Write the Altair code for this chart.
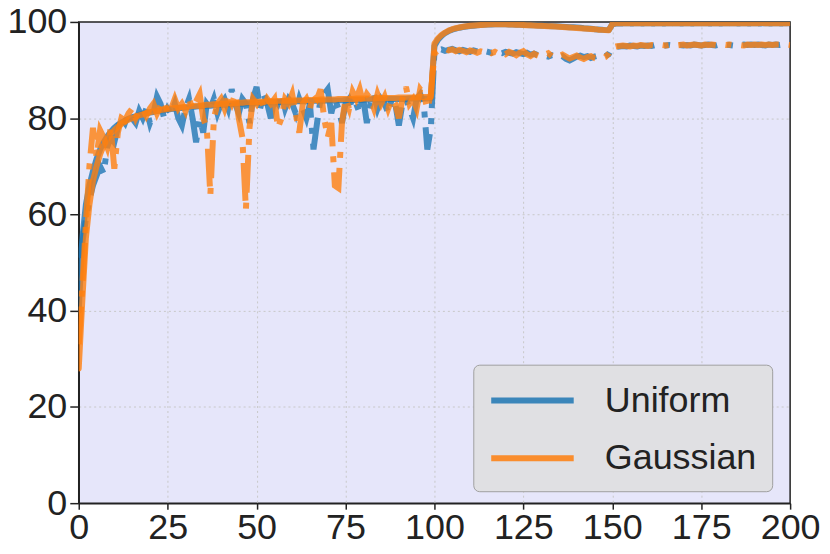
import altair as alt
import pandas as pd

# ---- data (accuracy %, epoch 0..200) ----
train_uniform = [
    40, 55, 62, 66, 69, 71.5, 73.5, 75, 76.2, 77.2,
    78, 78.6, 79.1, 79.5, 79.9, 80.2, 80.4, 80.7, 80.9, 81.0,
    81.2, 81.3, 81.5, 81.6, 81.7, 81.8, 81.9, 82.0, 82.1, 82.1,
    82.2, 82.3, 82.3, 82.4, 82.5, 82.5, 82.6, 82.6, 82.7, 82.7,
    82.8, 82.8, 82.9, 82.9, 83.0, 83.0, 83.0, 83.1, 83.1, 83.1,
    83.2, 83.2, 83.2, 83.3, 83.3, 83.3, 83.3, 83.4, 83.4, 83.4,
    83.4, 83.5, 83.5, 83.5, 83.5, 83.6, 83.6, 83.6, 83.6, 83.6,
    83.7, 83.7, 83.7, 83.7, 83.7, 83.8, 83.8, 83.8, 83.8, 83.8,
    83.8, 83.9, 83.9, 83.9, 83.9, 83.9, 83.9, 84.0, 84.0, 84.0,
    84.0, 84.0, 84.0, 84.1, 84.1, 84.1, 84.1, 84.1, 84.1, 84.2,
    95.0, 96.3, 97.1, 97.7, 98.1, 98.4, 98.6, 98.8, 98.95, 99.05,
    99.15, 99.2, 99.3, 99.35, 99.4, 99.45, 99.45, 99.5, 99.5, 99.5,
    99.5, 99.45, 99.45, 99.4, 99.4, 99.35, 99.35, 99.3, 99.3, 99.25,
    99.2, 99.2, 99.15, 99.1, 99.1, 99.05, 99.0, 98.95, 98.9, 98.9,
    98.85, 98.8, 98.7, 98.65, 98.6, 98.5, 98.45, 98.4, 98.3, 98.3,
    99.5, 99.65, 99.7, 99.7, 99.75, 99.7, 99.7, 99.75, 99.7, 99.7,
    99.75, 99.7, 99.7, 99.75, 99.7, 99.7, 99.75, 99.7, 99.75, 99.7,
    99.7, 99.75, 99.7, 99.7, 99.75, 99.7, 99.75, 99.7, 99.7, 99.75,
    99.7, 99.7, 99.75, 99.7, 99.75, 99.7, 99.7, 99.75, 99.7, 99.7,
    99.75, 99.7, 99.7, 99.75, 99.7, 99.7, 99.75, 99.7, 99.7, 99.75,
    99.7,
]

test_uniform = [
    51, 54, 59, 63, 66, 68, 70, 68.5, 74, 76,
    75, 78, 80, 79, 81, 80, 79, 81.5, 80, 82,
    79, 81, 84.5, 83, 80, 82, 81, 83, 80, 78.5,
    82, 84, 80, 75, 80, 77, 83, 82, 84, 81,
    83, 84, 82, 86, 83, 81, 84, 83, 79, 84,
    86.5, 82, 85, 83, 80, 84, 83, 85, 82, 84,
    83, 81, 84, 82, 80, 83, 73.5, 79, 84, 85,
    86, 81, 84, 82, 79, 83, 84, 82, 83, 81,
    84, 79, 83, 85, 82, 84, 83, 81, 84, 83,
    78.5, 83, 84, 82, 80, 84, 85, 83, 73.5, 78,
    93.8, 94.1, 94.3, 94.0, 94.2, 94.4, 94.1, 93.9, 94.2, 94.0,
    93.8, 94.1, 93.9, 93.7, 94.0, 93.8, 93.6, 93.9, 93.7, 93.5,
    93.8, 93.6, 93.4, 93.7, 93.5, 93.3, 93.6, 93.2, 93.4, 93.1,
    93.3, 93.0, 92.8, 93.1, 92.9, 92.6, 92.9, 92.3, 92.0, 92.4,
    92.8, 93.0, 92.7, 92.9, 92.5, 92.8, 93.0, 92.6, 92.9, 93.3,
    94.6, 94.8, 94.9, 95.0, 94.9, 95.1, 95.0, 94.9, 95.1, 95.0,
    95.1, 95.0, 95.2, 95.1, 95.0, 95.1, 95.2, 95.1, 95.0, 95.2,
    95.1, 95.2, 95.1, 95.3, 95.2, 95.1, 95.2, 95.3, 95.2, 95.1,
    95.3, 95.2, 95.3, 95.2, 95.1, 95.3, 95.2, 95.3, 95.2, 95.3,
    95.2, 95.3, 95.2, 95.1, 95.3, 95.2, 95.3, 95.2, 95.3, 95.2,
    95.3,
]

train_gaussian = [
    28, 42, 55, 62, 67, 70, 72.5, 74.3, 75.6, 76.7,
    77.5, 78.2, 78.8, 79.3, 79.7, 80.0, 80.3, 80.6, 80.8, 81.0,
    81.2, 81.4, 81.5, 81.7, 81.8, 81.9, 82.0, 82.1, 82.2, 82.3,
    82.4, 82.4, 82.5, 82.6, 82.6, 82.7, 82.8, 82.8, 82.9, 82.9,
    83.0, 83.0, 83.1, 83.1, 83.1, 83.2, 83.2, 83.3, 83.3, 83.3,
    83.4, 83.4, 83.4, 83.5, 83.5, 83.5, 83.6, 83.6, 83.6, 83.6,
    83.7, 83.7, 83.7, 83.7, 83.8, 83.8, 83.8, 83.8, 83.9, 83.9,
    83.9, 83.9, 83.9, 84.0, 84.0, 84.0, 84.0, 84.0, 84.1, 84.1,
    84.1, 84.1, 84.1, 84.1, 84.2, 84.2, 84.2, 84.2, 84.2, 84.2,
    84.3, 84.3, 84.3, 84.3, 84.3, 84.3, 84.4, 84.4, 84.4, 84.4,
    95.5, 96.6, 97.3, 97.8, 98.2, 98.5, 98.7, 98.85, 99.0, 99.1,
    99.2, 99.25, 99.3, 99.35, 99.4, 99.45, 99.5, 99.5, 99.5, 99.5,
    99.5, 99.45, 99.45, 99.4, 99.4, 99.35, 99.3, 99.3, 99.25, 99.2,
    99.2, 99.15, 99.1, 99.1, 99.05, 99.0, 98.95, 98.9, 98.85, 98.8,
    98.75, 98.7, 98.65, 98.6, 98.55, 98.5, 98.4, 98.35, 98.3, 98.25,
    99.55, 99.7, 99.75, 99.75, 99.8, 99.75, 99.75, 99.8, 99.75, 99.75,
    99.8, 99.75, 99.75, 99.8, 99.75, 99.8, 99.75, 99.75, 99.8, 99.75,
    99.75, 99.8, 99.75, 99.8, 99.75, 99.75, 99.8, 99.75, 99.75, 99.8,
    99.75, 99.8, 99.75, 99.75, 99.8, 99.75, 99.75, 99.8, 99.75, 99.8,
    99.75, 99.75, 99.8, 99.75, 99.75, 99.8, 99.75, 99.8, 99.75, 99.75,
    99.8,
]

test_gaussian = [
    33, 45, 58, 70, 78, 72, 77.5, 76, 74, 78,
    69.5, 77, 80, 79.5, 81, 82, 80, 81.5, 82, 80.5,
    82, 83, 81, 82.5, 83.5, 81, 82, 84, 82, 83,
    81.5, 84, 82, 83.5, 85, 80, 78, 64, 80, 83,
    84, 82, 84.5, 83, 85, 80, 76, 61, 78, 84,
    83, 84.5, 82, 84, 83, 84, 78, 80, 84, 83,
    85, 81, 77, 83, 84, 82, 85, 84, 86, 80,
    76, 79, 66, 65.5, 79, 84, 82, 85.5, 84, 86,
    83, 85, 84, 82, 85, 83, 84.5, 82, 84, 83,
    80, 84, 86.5, 83, 84, 82, 86, 85, 82, 85,
    93.5, 94.0, 94.2, 94.4, 94.1, 94.3, 93.9, 94.2, 94.0, 93.7,
    94.1, 93.9, 93.6, 93.9, 93.7, 93.9, 93.5, 93.8, 93.4, 93.7,
    93.3, 93.8, 93.5, 93.1, 93.6, 93.9, 93.3, 92.9, 93.4, 93.0,
    92.7, 93.2, 93.5, 92.9, 92.6, 92.9, 93.2, 92.8, 92.4, 92.7,
    93.0, 92.6, 92.3, 92.7, 92.9, 92.5, 92.3, 92.4, 92.7, 93.4,
    94.7, 94.9, 95.0, 95.1, 95.0, 94.9, 95.1, 95.0, 95.2, 95.1,
    95.0, 95.2, 95.1, 95.0, 95.2, 95.1, 95.2, 95.0, 95.1, 95.2,
    95.3, 95.1, 95.2, 95.3, 95.2, 95.1, 95.3, 95.2, 95.3, 95.2,
    95.1, 95.3, 95.2, 95.3, 95.2, 95.3, 95.2, 95.1, 95.3, 95.2,
    95.3, 95.2, 95.3, 95.2, 95.3, 95.2, 95.3, 95.3, 95.2, 95.3,
    95.2,
]

methods = ["Uniform", "Gaussian"]
colors = ["#1f77b4", "#ff7f0e"]
x_ticks = [0, 25, 50, 75, 100, 125, 150, 175, 200]
y_ticks = [0, 20, 40, 60, 80, 100]


def frame(values, method):
    return pd.DataFrame({
        "epoch": list(range(len(values))),
        "acc": values,
        "method": method,
    })


color_enc = alt.Color(
    "method:N",
    scale=alt.Scale(domain=methods, range=colors),
    legend=alt.Legend(
        title=None,
        orient="none",
        legendX=396,
        legendY=344,
        symbolType="M-1,0H3.6",
        symbolSize=1296,
        symbolStrokeWidth=6,
        symbolDash=[1, 0],
        symbolOpacity=0.85,
        labelFontSize=36,
        labelFont="Liberation Sans",
        labelColor="#222222",
        labelOffset=75,
        rowPadding=19,
        padding=15,
        fillColor="#e0e0e3",
        strokeColor="#a0a0a0",
        cornerRadius=6,
    ),
)

x_enc = alt.X(
    "epoch:Q",
    scale=alt.Scale(domain=[0, 200], nice=False),
    axis=alt.Axis(
        values=x_ticks, title=None, labelFontSize=36,
        labelFont="Liberation Sans", tickSize=6,
        labelPadding=1, labelFlush=False,
        gridOpacity={"condition": {"test": "datum.value == 200 || datum.value == 0", "value": 0}, "value": 1},
    ),
)
y_enc = alt.Y(
    "acc:Q",
    scale=alt.Scale(domain=[0, 100], nice=False),
    axis=alt.Axis(
        values=y_ticks, title=None, labelFontSize=36,
        labelFont="Liberation Sans", tickSize=9, labelPadding=3,
        labelFlush=False,
        gridOpacity={"condition": {"test": "datum.value == 100 || datum.value == 0", "value": 0}, "value": 1},
    ),
)


def layer(values, method, dashed):
    if dashed:
        mark = alt.Chart(frame(values, method)).mark_line(
            strokeWidth=6, opacity=0.8, strokeDash=[38, 10, 6, 10],
            strokeCap="butt", clip=True,
        )
    else:
        mark = alt.Chart(frame(values, method)).mark_line(
            strokeWidth=6, opacity=0.8, strokeCap="round",
            strokeJoin="round", clip=True,
        )
    return mark.encode(x=x_enc, y=y_enc, color=color_enc)


chart = alt.layer(
    layer(train_uniform, "Uniform", False),
    layer(test_uniform, "Uniform", True),
    layer(train_gaussian, "Gaussian", False),
    layer(test_gaussian, "Gaussian", True),
).properties(
    width=714,
    height=483,
    autosize=alt.AutoSizeParams(type="none"),
    padding={"left": 71, "top": 13, "right": 32, "bottom": 44},
).configure_view(
    fill="#E6E6FA", stroke="#222222", strokeWidth=1.5,
).configure_axis(
    grid=True, gridColor="#c8c8c8", gridDash=[2, 3], gridWidth=1,
    domainColor="#222222", domainWidth=1.5,
    tickColor="#222222", tickWidth=1.5, labelColor="#222222",
)

chart.save("out.html", embed_options={"renderer": "svg", "actions": False})
